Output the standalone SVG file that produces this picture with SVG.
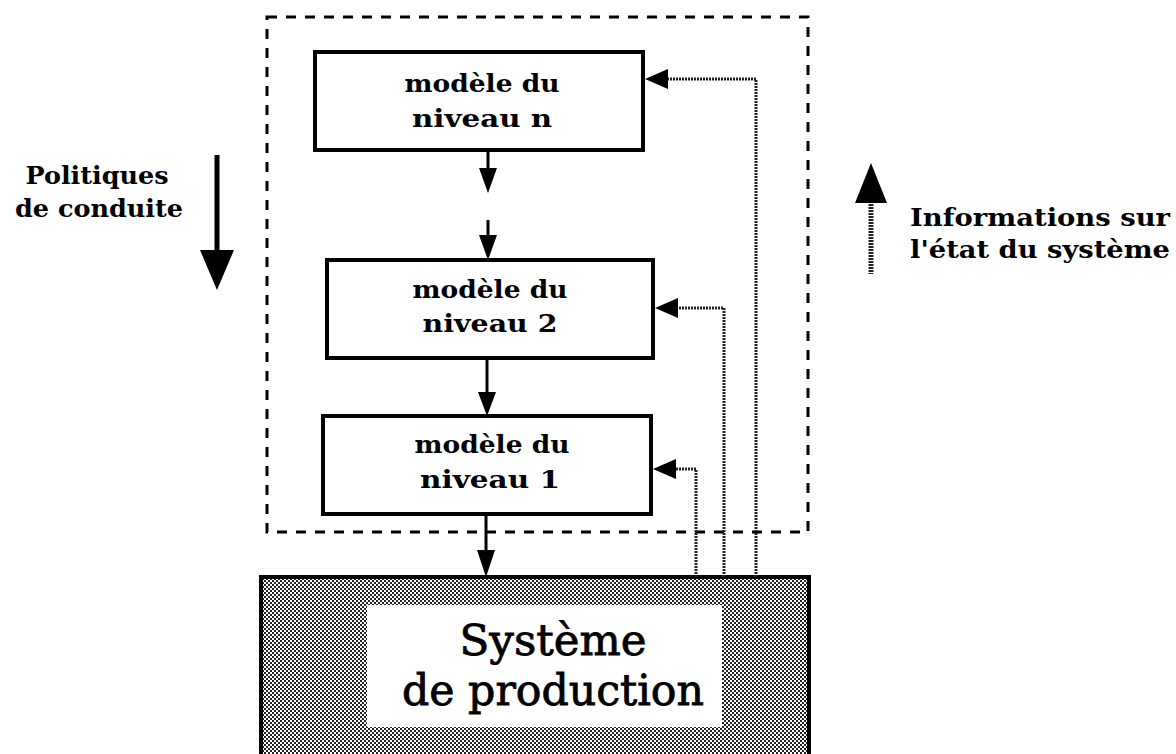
<svg xmlns="http://www.w3.org/2000/svg" width="1176" height="754" viewBox="0 0 1176 754">
<defs>
<pattern id="dots" width="4" height="4" patternUnits="userSpaceOnUse">
<rect width="4" height="4" fill="#ffffff"/>
<rect x="0" y="0" width="2" height="2" fill="#222"/>
<rect x="2" y="2" width="2" height="2" fill="#222"/>
</pattern>
</defs>
<style>
.box{fill:#fff;stroke:#000;stroke-width:4}
.t{font-family:"DejaVu Serif","Liberation Serif",serif;font-weight:bold;font-size:24px;fill:#000;text-anchor:middle}
.side{font-family:"DejaVu Serif","Liberation Serif",serif;font-weight:bold;font-size:24px;fill:#000}
.big{font-family:"DejaVu Serif","Liberation Serif",serif;font-size:42px;fill:#000;stroke:#000;stroke-width:0.8;text-anchor:middle}
.link{fill:none;stroke:#000;stroke-width:3}
.fb{fill:none;stroke:#222;stroke-width:3;stroke-dasharray:2 1}
.head{fill:#000}
</style>
<g id="frame">
<rect x="267" y="17" width="541" height="515" fill="none" stroke="#000" stroke-width="3" stroke-dasharray="10 9"/>
</g>
<g id="node-n">
<rect class="box" x="315" y="52" width="328" height="98"/>
<text class="t" x="482" y="92" textLength="155" lengthAdjust="spacingAndGlyphs">modèle du</text>
<text class="t" x="482" y="127" textLength="140" lengthAdjust="spacingAndGlyphs">niveau  n</text>
</g>
<g id="node-2">
<rect class="box" x="327" y="260" width="326" height="98"/>
<text class="t" x="490" y="298" textLength="155" lengthAdjust="spacingAndGlyphs">modèle du</text>
<text class="t" x="490" y="332" textLength="135" lengthAdjust="spacingAndGlyphs">niveau  2</text>
</g>
<g id="node-1">
<rect class="box" x="323" y="416" width="328" height="98"/>
<text class="t" x="492" y="453" textLength="155" lengthAdjust="spacingAndGlyphs">modèle du</text>
<text class="t" x="490" y="488" textLength="140" lengthAdjust="spacingAndGlyphs">niveau  1</text>
</g>
<g id="production">
<rect x="261" y="577" width="548" height="190" fill="url(#dots)" stroke="#000" stroke-width="4"/>
<rect x="367" y="605" width="355" height="122" fill="#fff"/>
<text class="big" x="553" y="655" textLength="187" lengthAdjust="spacingAndGlyphs">Système</text>
<text class="big" x="553" y="705" textLength="302" lengthAdjust="spacingAndGlyphs">de production</text>
</g>
<g id="politiques">
<text class="side" x="97" y="184" text-anchor="middle" textLength="143" lengthAdjust="spacingAndGlyphs">Politiques</text>
<text class="side" x="99" y="217" text-anchor="middle" textLength="168" lengthAdjust="spacingAndGlyphs">de conduite</text>
<line x1="217" y1="155" x2="217" y2="255" stroke="#000" stroke-width="5"/>
<path class="head" d="M200,250 L234,250 L217,290 z"/>
</g>
<g id="informations">
<text class="side" x="910" y="226" textLength="260" lengthAdjust="spacingAndGlyphs">Informations sur</text>
<text class="side" x="910" y="258" textLength="260" lengthAdjust="spacingAndGlyphs">l'état du système</text>
<line x1="871" y1="195" x2="871" y2="274" stroke="#222" stroke-width="5" stroke-dasharray="2 1"/>
<path class="head" d="M871,163 L887,203 L855,203 z"/>
</g>
<g id="connectors">
<line class="link" x1="488" y1="150" x2="488" y2="170"/>
<path class="head" d="M479,168 L497,168 L488,193 z"/>
<line class="link" x1="488" y1="220" x2="488" y2="237"/>
<path class="head" d="M479,235 L497,235 L488,260 z"/>
<line class="link" x1="487" y1="358" x2="487" y2="394"/>
<path class="head" d="M478,392 L496,392 L487,416 z"/>
<line class="link" x1="486" y1="514" x2="486" y2="552"/>
<path class="head" d="M477,550 L495,550 L486,577 z"/>
<polyline class="fb" points="756,577 756,79 665,79"/>
<path class="head" d="M645,79 L668,69 L668,89 z"/>
<polyline class="fb" points="724,577 724,308 675,308"/>
<path class="head" d="M655,308 L678,298 L678,318 z"/>
<polyline class="fb" points="696,577 696,469 673,469"/>
<path class="head" d="M653,469 L676,459 L676,479 z"/>
</g>
</svg>
